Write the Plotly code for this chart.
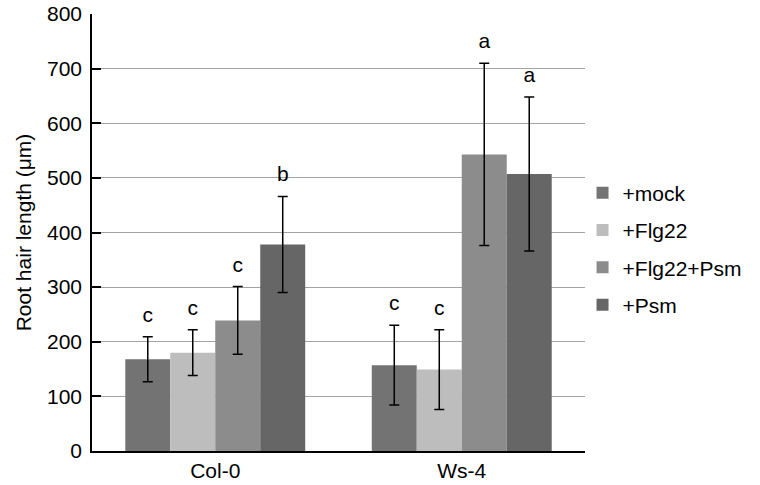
import plotly.graph_objects as go

categories = ["Col-0", "Ws-4"]
series_names = ["+mock", "+Flg22", "+Flg22+Psm", "+Psm"]
series_colors = ["#737373", "#bdbdbd", "#8c8c8c", "#666666"]
mock = [168, 157]
flg22 = [180, 149]
flg22_psm = [239, 543]
psm = [378, 507]
mock_err = [41, 73]
flg22_err = [42, 73]
flg22_psm_err = [62, 167]
psm_err = [88, 141]
mock_letters = ["c", "c"]
flg22_letters = ["c", "c"]
flg22_psm_letters = ["c", "a"]
psm_letters = ["b", "a"]
y_ticks = [0, 100, 200, 300, 400, 500, 600, 700, 800]

values = [mock, flg22, flg22_psm, psm]
errors = [mock_err, flg22_err, flg22_psm_err, psm_err]
letters = [mock_letters, flg22_letters, flg22_psm_letters, psm_letters]

FONT = "Liberation Sans, Arial, sans-serif"
FS = 21
fig = go.Figure()
for i, name in enumerate(series_names):
    fig.add_trace(go.Bar(
        x=categories, y=values[i], name=name,
        marker=dict(color=series_colors[i], line=dict(width=0)),
        error_y=dict(type="data", array=errors[i], visible=True,
                     color="black", thickness=1.5, width=5),
        offsetgroup=str(i), legendgroup=str(i),
    ))
for i, name in enumerate(series_names):
    tops = [v + e for v, e in zip(values[i], errors[i])]
    fig.add_trace(go.Scatter(
        x=categories, y=tops, mode="text+markers", text=letters[i],
        textposition="top center",
        marker=dict(size=14, opacity=0),
        textfont=dict(size=FS, color="black", family=FONT),
        offsetgroup=str(i), showlegend=False, hoverinfo="skip",
        cliponaxis=False,
    ))

fig.update_layout(
    template="none",
    width=760, height=485,
    margin=dict(l=92, r=175, t=14, b=34, autoexpand=False),
    plot_bgcolor="white", paper_bgcolor="white",
    barmode="group", bargap=0.27, bargroupgap=0,
    scattermode="group", scattergap=0.27,
    font=dict(family=FONT, size=FS, color="black"),
    legend=dict(x=0.995, xanchor="left", y=0.462, yanchor="middle",
                font=dict(size=FS, family=FONT), tracegroupgap=7,
                traceorder="grouped", bgcolor="rgba(0,0,0,0)"),
    showlegend=True,
)
fig.update_xaxes(showline=True, linecolor="black", linewidth=1.5,
                 ticks="", showgrid=False, tickfont=dict(size=FS),
                 automargin=False)
fig.update_yaxes(range=[0, 800], tickvals=y_ticks, showline=True,
                 linecolor="black", linewidth=1.5, ticks="inside",
                 ticklen=9, tickcolor="black", tickwidth=1.5,
                 showgrid=True, gridcolor="#a3a3a3", gridwidth=1.3,
                 zeroline=False, tickfont=dict(size=FS),
                 ticklabelstandoff=4, automargin=False,
                 title=dict(text="Root hair length (μm)", standoff=10,
                            font=dict(size=FS)))
fig.write_html("out.html", config={"displayModeBar": False},
               post_script="document.body.style.margin='0';document.body.style.overflow='hidden';")
